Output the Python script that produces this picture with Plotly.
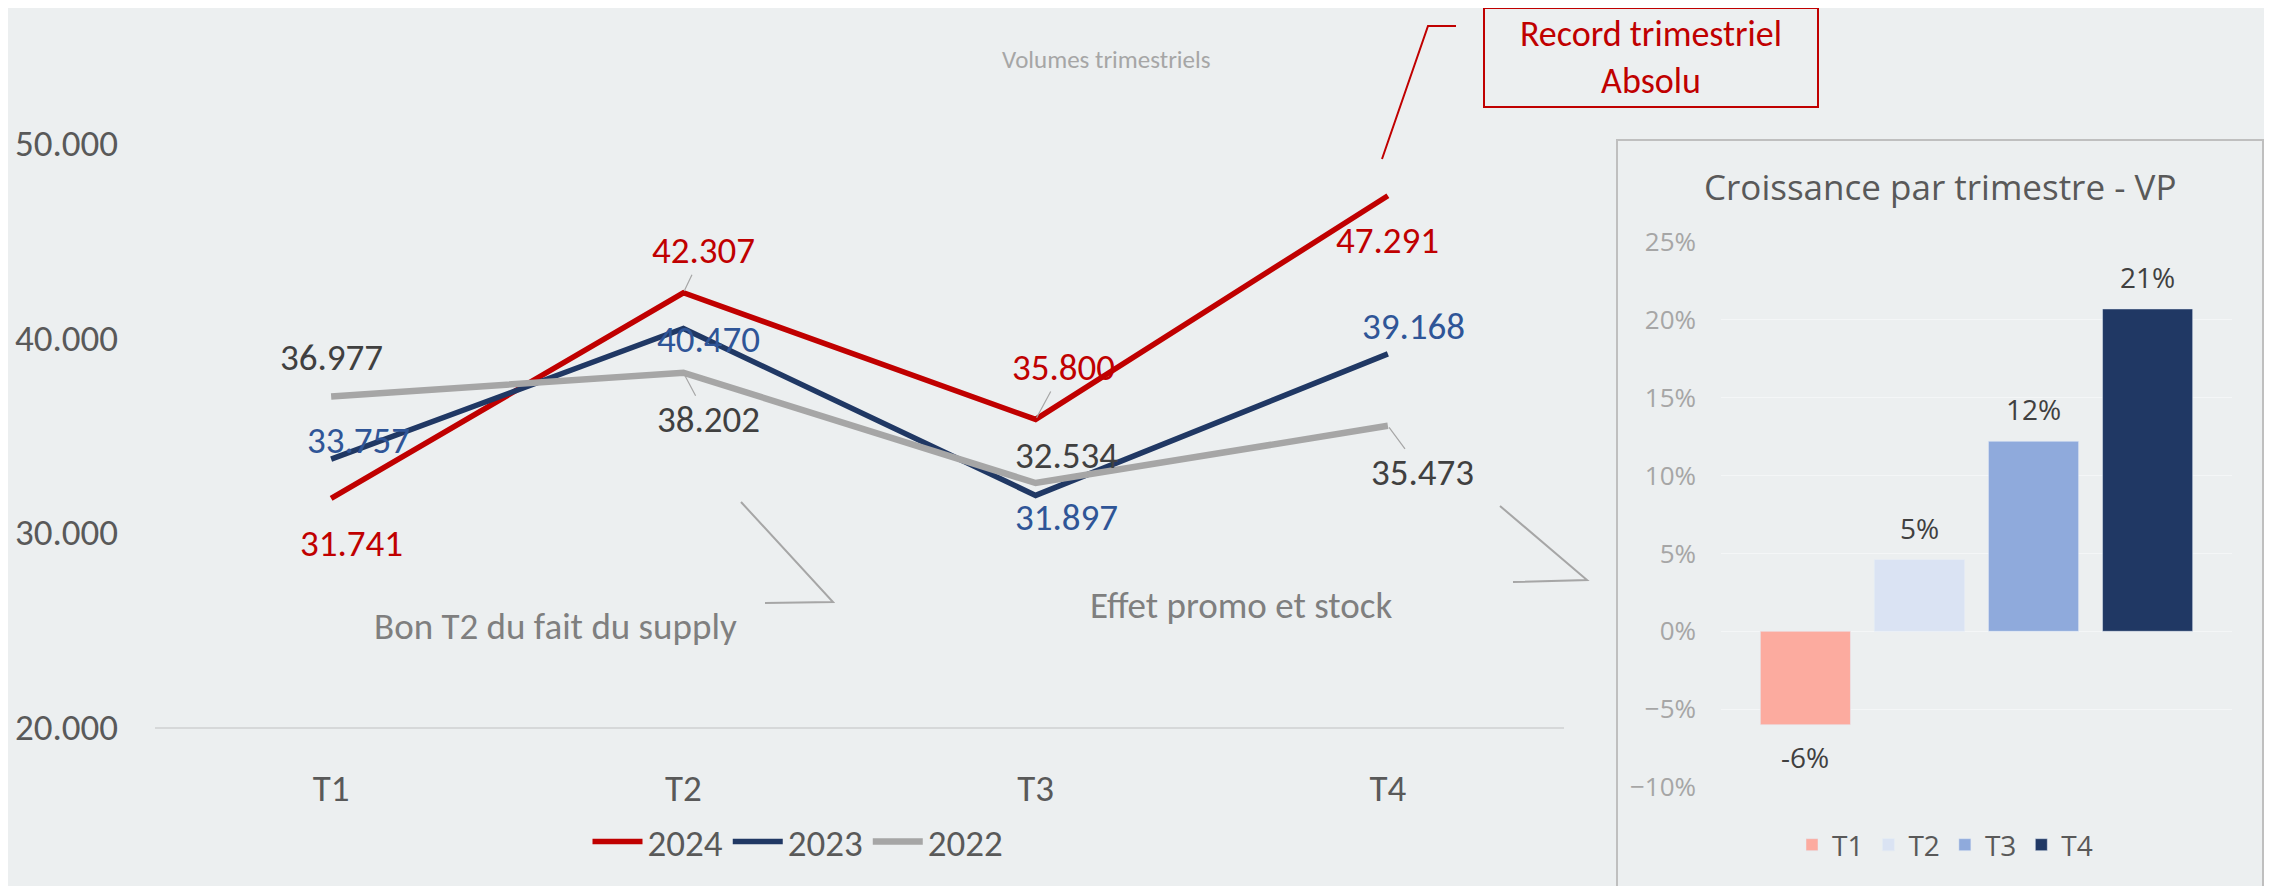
import plotly.graph_objects as go

# page body adds an 8px margin, so the figure is drawn 8px smaller and
# all reference pixel positions are shifted by that offset
OFF = 8
W, H = 2272 - OFF, 886 - OFF

quarters = ["T1", "T2", "T3", "T4"]
v2024 = [31741, 42307, 35800, 47291]
v2023 = [33757, 40470, 31897, 39168]
v2022 = [36977, 38202, 32534, 35473]

growth_labels = ["T1", "T2", "T3", "T4"]
growth = [-0.06, 0.046, 0.122, 0.207]

y_ticks = [20000, 30000, 40000, 50000]
pct_ticks = [-0.10, -0.05, 0.0, 0.05, 0.10, 0.15, 0.20, 0.25]

BG = "#ECEFF0"
MAIN_FONT = "Carlito, Lato, sans-serif"
INSET_FONT = "Segoe UI, Open Sans, sans-serif"


def px(x):
    return (x - OFF) / W


def py(y):
    return 1 - (y - OFF) / H


def fmt(v):
    return f"{v:,}".replace(",", ".")


fig = go.Figure()

series = [
    ("2024", v2024, "#C00000", "#C00000", 5.5),
    ("2023", v2023, "#203864", "#2F5597", 5.5),
    ("2022", v2022, "#A6A6A6", "#404040", 6.5),
]
for name, vals, col, _, w in series:
    fig.add_trace(go.Scatter(
        x=quarters, y=vals, mode="lines", name=name,
        line=dict(color=col, width=w),
        xaxis="x", yaxis="y", legend="legend", hoverinfo="skip",
    ))

# label offsets (px) per series/point, and whether a leader line is drawn
offsets = {
    "2024": [(20, 45, False), (20, -42, True), (28, -52, True), (0, 45, False)],
    "2023": [(27, -19, False), (25, 11, False), (31, 22, False), (26, -27, False)],
    "2022": [(0, -39, False), (25, 47, True), (31, -28, False), (35, 47, True)],
}

annotations = []
for name, vals, _, tcol, _ in series:
    for q, v, (dx, dy, lead) in zip(quarters, vals, offsets[name]):
        a = dict(x=q, y=v, xref="x", yref="y", text=fmt(v),
                 font=dict(family=MAIN_FONT, size=37, color=tcol))
        if lead:
            a.update(showarrow=True, arrowhead=0, arrowwidth=1.2,
                     arrowcolor="#A6A6A6", ax=dx, ay=dy, standoff=2)
        else:
            a.update(showarrow=False, xshift=dx, yshift=-dy)
        annotations.append(a)

colors = ["#FCAB9F", "#DAE3F3", "#8FAADC", "#203864"]
for lab, g, c in zip(growth_labels, growth, colors):
    fig.add_trace(go.Bar(
        x=[lab], y=[g], name=lab, marker_color=c,
        xaxis="x2", yaxis="y2", legend="legend2", hoverinfo="skip",
    ))
    annotations.append(dict(
        x=lab, y=g, xref="x2", yref="y2", showarrow=False,
        text=f"{round(g * 100):.0f}%", yshift=32 if g >= 0 else -32,
        font=dict(family=INSET_FONT, size=28, color="#404040"),
    ))

annotations += [
    dict(x=px(1106), y=py(59), xref="paper", yref="paper", showarrow=False,
         xanchor="center", yanchor="middle", text="Volumes trimestriels",
         font=dict(family=MAIN_FONT, size=25, color="#A6A6A6")),
    dict(x=px(555), y=py(626), xref="paper", yref="paper", showarrow=False,
         xanchor="center", yanchor="middle", text="Bon T2 du fait du supply",
         font=dict(family=MAIN_FONT, size=37, color="#7F7F7F")),
    dict(x=px(1241), y=py(605), xref="paper", yref="paper", showarrow=False,
         xanchor="center", yanchor="middle", text="Effet promo et stock",
         font=dict(family=MAIN_FONT, size=37, color="#7F7F7F")),
    dict(x=px(1651), y=py(57), xref="paper", yref="paper", showarrow=False,
         xanchor="center", yanchor="middle",
         text="Record trimestriel<br>Absolu", align="center",
         width=332, height=97, bordercolor="#C00000", borderwidth=2, borderpad=0,
         font=dict(family=MAIN_FONT, size=36, color="#C00000")),
    dict(x=px(1940), y=py(186), xref="paper", yref="paper", showarrow=False,
         xanchor="center", yanchor="middle", text="Croissance par trimestre - VP",
         font=dict(family=INSET_FONT, size=35, color="#595959")),
]

gray_line = dict(color="#A6A6A6", width=2)
shapes = [
    dict(type="path", xref="paper", yref="paper",
         path=f"M {px(741)},{py(502)} L {px(833)},{py(602)} L {px(765)},{py(603)}",
         line=gray_line),
    dict(type="path", xref="paper", yref="paper",
         path=f"M {px(1500)},{py(506)} L {px(1587)},{py(580)} L {px(1513)},{py(582)}",
         line=gray_line),
    dict(type="path", xref="paper", yref="paper",
         path=f"M {px(1382)},{py(159)} L {px(1428)},{py(26)} L {px(1456)},{py(26)}",
         line=dict(color="#C00000", width=2)),
    dict(type="rect", xref="paper", yref="paper",
         x0=px(1617), x1=px(2263), y0=py(900), y1=py(140),
         line=dict(color="#BFBFBF", width=2), layer="below"),
]

fig.update_layout(
    width=W, height=H,
    margin=dict(l=0, r=0, t=0, b=0, pad=0, autoexpand=False),
    paper_bgcolor=BG, plot_bgcolor=BG,
    separators=",.",
    showlegend=True,
    barmode="overlay", bargap=0.21,
    xaxis=dict(domain=[px(155), px(1564)], anchor="y", type="category",
               range=[-0.5, 3.5], showgrid=False, zeroline=False,
               showline=True, linecolor="#D6D8D9", linewidth=2, ticks="",
               automargin=False,
               tickfont=dict(family=MAIN_FONT, size=37, color="#595959"),
               ticklabelstandoff=28),
    yaxis=dict(domain=[py(727), py(143)], anchor="x", range=[20000, 50000],
               tickvals=y_ticks, tickformat=",d", showgrid=False,
               zeroline=False, showline=False, ticks="", automargin=False,
               tickfont=dict(family=MAIN_FONT, size=37, color="#595959"),
               ticklabelstandoff=36),
    xaxis2=dict(domain=[px(1721), px(2232)], anchor="y2", type="category",
                range=[-0.74, 3.74], showticklabels=False,
                showgrid=False, zeroline=False, showline=False, automargin=False),
    yaxis2=dict(domain=[py(787), py(242)], anchor="x2", range=[-0.10, 0.25],
                tickvals=pct_ticks, tickformat=".0%", showgrid=True,
                gridcolor="#F4F6F7", gridwidth=1, zeroline=False, ticks="",
                automargin=False,
                tickfont=dict(family=INSET_FONT, size=26, color="#A6A6A6"),
                ticklabelstandoff=24),
    legend=dict(orientation="h", x=px(798), xanchor="center", y=py(842),
                yanchor="middle", bgcolor="rgba(0,0,0,0)", itemwidth=50,
                font=dict(family=MAIN_FONT, size=37, color="#595959")),
    legend2=dict(orientation="h", x=px(1945), xanchor="center", y=py(845),
                 yanchor="middle", bgcolor="rgba(0,0,0,0)",
                 font=dict(family=INSET_FONT, size=28, color="#595959")),
    annotations=annotations,
    shapes=shapes,
)

fig.write_html("out.html")
